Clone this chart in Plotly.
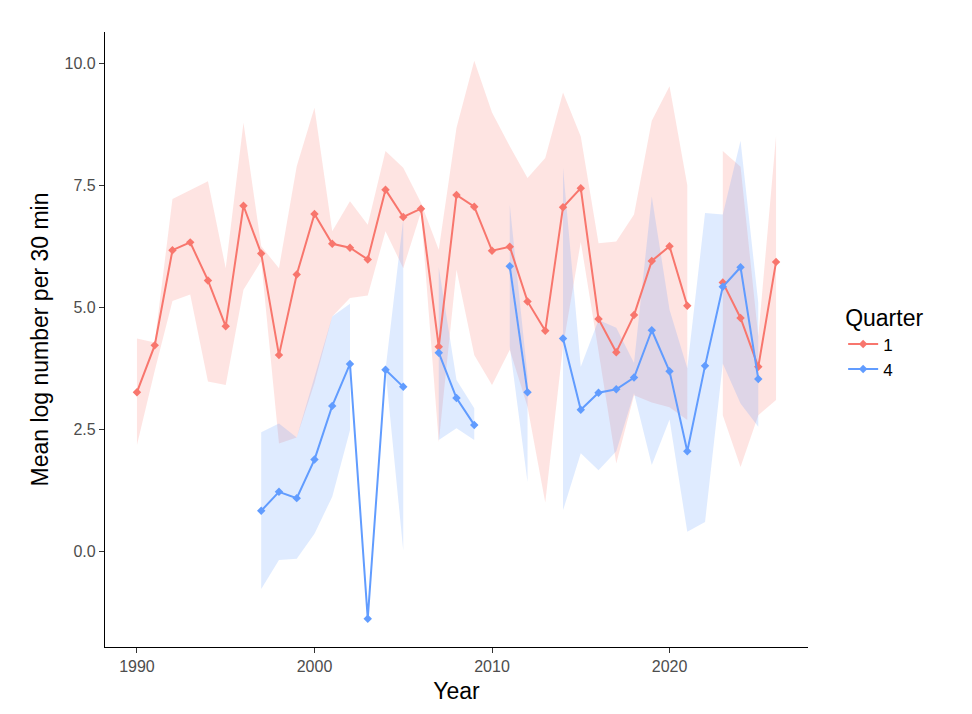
import plotly.graph_objects as go

# ---------------- data ----------------
years = list(range(1990, 2027))

q1_mean = [3.26, 4.22, 6.17, 6.33, 5.55, 4.61, 7.08, 6.10, 4.02, 5.67,
           6.91, 6.30, 6.22, 5.98, 7.41, 6.85, 7.02, 4.19, 7.30, 7.06,
           6.16, 6.24, 5.12, 4.52, 7.05, 7.44, 4.76, 4.08, 4.84, 5.95,
           6.25, 5.03, None, 5.51, 4.78, 3.78, 5.93]
q1_upper = [4.36, 4.28, 7.22, 7.40, 7.58, 5.80, 8.78, 6.25, 5.80, 7.89,
            9.09, 6.56, 7.17, 6.69, 8.20, 7.86, 7.14, 6.18, 8.68, 10.05,
            8.99, 8.30, 7.65, 8.06, 9.40, 8.50, 6.31, 6.35, 6.90, 8.82,
            9.53, 7.50, None, 8.20, 7.88, 4.40, 8.51]
q1_lower = [2.18, 3.70, 5.13, 5.26, 3.48, 3.41, 5.36, 5.95, 2.21, 2.33,
            3.45, 4.81, 5.19, 5.24, 6.56, 5.80, 6.95, 2.24, 5.77, 4.02,
            3.41, 4.13, 2.96, 1.00, 4.20, 6.34, 4.10, 1.80, 3.20, 3.05,
            2.95, 2.69, None, 2.79, 1.73, 2.79, 3.10]

q4_mean = [None] * 7 + [0.83, 1.22, 1.09, 1.88, 2.98, 3.84, -1.38, 3.72, 3.37,
           None, 4.07, 3.14, 2.59, None, 5.84, 3.26, None, 4.36, 2.90,
           3.25, 3.32, 3.56, 4.53, 3.69, 2.05, 3.80, 5.42, 5.82, 3.53, None]
q4_upper = [None] * 7 + [2.44, 2.62, 2.33, 3.55, 4.81, 5.07, None, 3.72, 6.80,
            None, 5.82, 3.51, 2.93, None, 7.10, 3.60, None, 7.86, 3.78,
            4.74, 4.58, 3.86, 7.27, 4.95, 3.75, 6.93, 6.90, 8.41, 5.09, None]
q4_lower = [None] * 7 + [-0.77, -0.18, -0.15, 0.36, 1.12, 2.48, None, 3.72, 0.02,
            None, 2.28, 2.52, 2.28, None, 4.20, 1.42, None, 0.84, 2.01,
            1.66, 2.05, 3.24, 1.77, 2.70, 0.40, 0.60, 3.85, 3.03, 2.55, None]

quarters = ["1", "4"]
line_colors = ["#F8766D", "#619CFF"]
fill_colors = ["rgba(248,118,109,0.2)", "rgba(97,156,255,0.2)"]

y_ticks = [0, 2.5, 5, 7.5, 10]
y_tick_text = ["0.0", "2.5", "5.0", "7.5", "10.0"]
x_ticks = [1990, 2000, 2010, 2020]


def ribbon_polygon(xs, lo, hi):
    """Build closed polygons for each contiguous non-missing run."""
    px, py = [], []
    seg = []
    for x, l, h in zip(xs, lo, hi):
        if l is None or h is None:
            if seg:
                px += [s[0] for s in seg] + [s[0] for s in seg[::-1]] + [None]
                py += [s[2] for s in seg] + [s[1] for s in seg[::-1]] + [None]
                seg = []
        else:
            seg.append((x, l, h))
    if seg:
        px += [s[0] for s in seg] + [s[0] for s in seg[::-1]]
        py += [s[2] for s in seg] + [s[1] for s in seg[::-1]]
    return px, py


fig = go.Figure()

series = [(q1_mean, q1_lower, q1_upper), (q4_mean, q4_lower, q4_upper)]

# ribbons first
for (m, lo, hi), q, fc in zip(series, quarters, fill_colors):
    px, py = ribbon_polygon(years, lo, hi)
    fig.add_trace(go.Scatter(
        x=px, y=py, mode="lines", fill="toself", fillcolor=fc,
        line=dict(width=0), hoverinfo="skip", showlegend=False,
        legendgroup=q))

# lines + points
for (m, lo, hi), q, lc in zip(series, quarters, line_colors):
    fig.add_trace(go.Scatter(
        x=years, y=m, mode="lines+markers", name=q, legendgroup=q,
        line=dict(color=lc, width=2),
        marker=dict(symbol="diamond", size=6.5, color=lc),
        connectgaps=False))

font_family = "Liberation Sans, Arial, sans-serif"

fig.update_layout(
    width=972, height=714,
    margin=dict(l=105, r=164, t=32, b=67),
    paper_bgcolor="white", plot_bgcolor="white",
    font=dict(family=font_family, color="black"),
    showlegend=True,
    legend=dict(
        title=dict(text="Quarter", font=dict(size=23, color="black")),
        font=dict(size=17, color="black"),
        x=1.05, xanchor="left", y=0.57, yanchor="top",
        bgcolor="rgba(0,0,0,0)", tracegroupgap=0,
    ),
    xaxis=dict(
        range=[1988.2, 2027.8], tickvals=x_ticks,
        showgrid=False, zeroline=False,
        showline=True, linecolor="black", linewidth=1.3,
        ticks="outside", ticklen=5, tickwidth=1.1, tickcolor="#333333",
        tickfont=dict(size=16, color="#4D4D4D"),
        title=dict(text="Year", font=dict(size=23, color="black"), standoff=8),
    ),
    yaxis=dict(
        range=[-1.96, 10.64], tickvals=y_ticks, ticktext=y_tick_text,
        showgrid=False, zeroline=False,
        showline=True, linecolor="black", linewidth=1.3,
        ticks="outside", ticklen=5, tickwidth=1.1, tickcolor="#333333",
        tickfont=dict(size=16, color="#4D4D4D"),
        title=dict(text="Mean log number per 30 min",
                   font=dict(size=23, color="black"), standoff=9),
    ),
)

fig.write_html("out.html")
